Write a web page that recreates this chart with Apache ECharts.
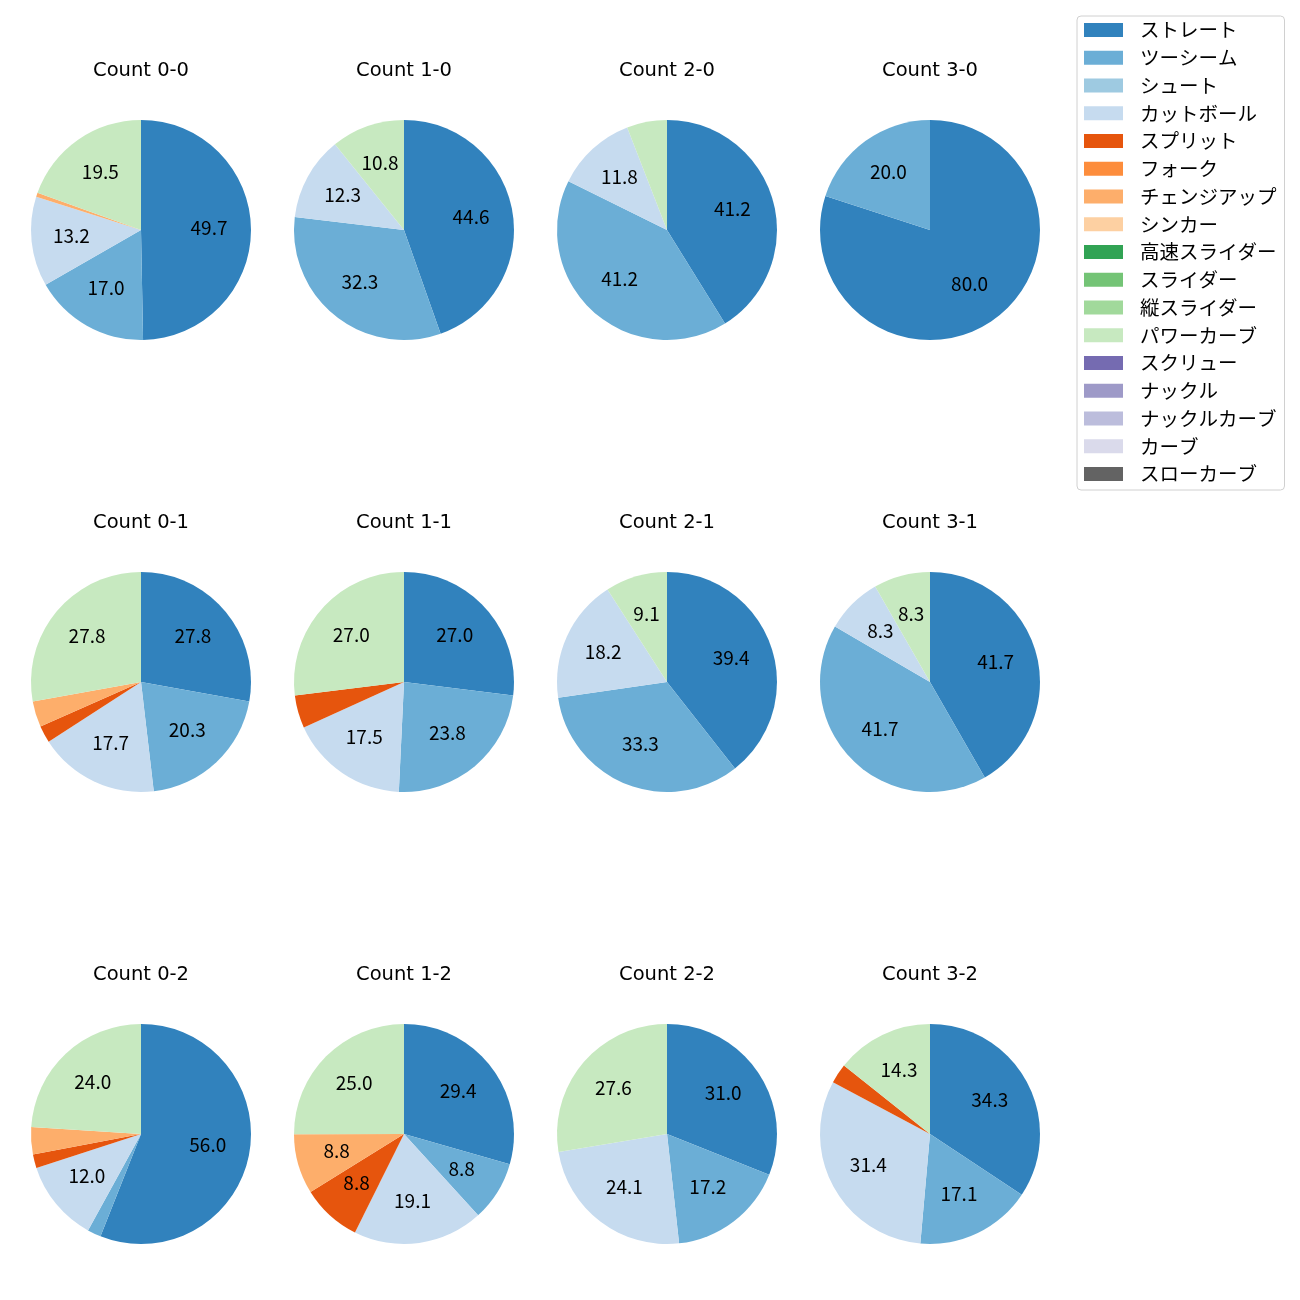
<!DOCTYPE html>
<html><head><meta charset="utf-8">
<script src="https://cdn.jsdelivr.net/npm/echarts@6/dist/echarts.min.js"></script>
<style>html,body{margin:0;padding:0;background:#fff}#c{width:1300px;height:1300px}</style>
</head><body><div id="c"></div>
<script>
const pitchTypes = ['ストレート','ツーシーム','シュート','カットボール','スプリット','フォーク','チェンジアップ','シンカー','高速スライダー','スライダー','縦スライダー','パワーカーブ','スクリュー','ナックル','ナックルカーブ','カーブ','スローカーブ'];
const palette = ['#3182bd','#6baed6','#9ecae1','#c6dbef','#e6550d','#fd8d3c','#fdae6b','#fdd0a2','#31a354','#74c476','#a1d99b','#c7e9c0','#756bb1','#9e9ac8','#bcbddc','#dadaeb','#636363'];
const countTitles = ['Count 0-0','Count 1-0','Count 2-0','Count 3-0','Count 0-1','Count 1-1','Count 2-1','Count 3-1','Count 0-2','Count 1-2','Count 2-2','Count 3-2'];
// values in percent, order follows pitchTypes
const c00 = [49.7,17.0,0,13.2,0,0,0.6,0,0,0,0,19.5,0,0,0,0,0];
const c10 = [44.6,32.3,0,12.3,0,0,0,0,0,0,0,10.8,0,0,0,0,0];
const c20 = [41.2,41.2,0,11.8,0,0,0,0,0,0,0,5.9,0,0,0,0,0];
const c30 = [80.0,20.0,0,0,0,0,0,0,0,0,0,0,0,0,0,0,0];
const c01 = [27.8,20.3,0,17.7,2.5,0,3.8,0,0,0,0,27.8,0,0,0,0,0];
const c11 = [27.0,23.8,0,17.5,4.8,0,0,0,0,0,0,27.0,0,0,0,0,0];
const c21 = [39.4,33.3,0,18.2,0,0,0,0,0,0,0,9.1,0,0,0,0,0];
const c31 = [41.7,41.7,0,8.3,0,0,0,0,0,0,0,8.3,0,0,0,0,0];
const c02 = [56.0,2.0,0,12.0,2.0,0,4.0,0,0,0,0,24.0,0,0,0,0,0];
const c12 = [29.4,8.8,0,19.1,8.8,0,8.8,0,0,0,0,25.0,0,0,0,0,0];
const c22 = [31.0,17.2,0,24.1,0,0,0,0,0,0,0,27.6,0,0,0,0,0];
const c32 = [34.3,17.1,0,31.4,2.9,0,0,0,0,0,0,14.3,0,0,0,0,0];
const allCounts = [c00,c10,c20,c30,c01,c11,c21,c31,c02,c12,c22,c32];

const FONT = '"Noto Sans CJK JP", "Noto Sans", sans-serif';
const TFONT = '"DejaVu Sans", sans-serif';
const colX = [141, 404, 667, 930];
const rowY = [230, 682, 1134];
const R = 110;

const chart = echarts.init(document.getElementById('c'), null, {renderer: 'canvas'});
const titles = [];
const series = [];
allCounts.forEach((vals, i) => {
  const cx = colX[i % 4], cy = rowY[Math.floor(i / 4)];
  titles.push({
    text: countTitles[i], left: cx, top: cy - R - 60, textAlign: 'center', padding: 0,
    textStyle: {fontFamily: TFONT, fontSize: 19.5, lineHeight: 22, fontWeight: 'normal', color: '#000'}
  });
  const data = pitchTypes.map((n, k) => ({name: n, value: vals[k]}));
  series.push({
    type: 'pie', center: [cx, cy], radius: R, startAngle: 90, clockwise: true,
    avoidLabelOverlap: false, label: {show: false}, labelLine: {show: false},
    itemStyle: {borderWidth: 0}, emphasis: {disabled: true}, silent: true,
    animation: false, data: data
  });
  series.push({
    type: 'pie', center: [cx, cy], radius: R * 1.2, startAngle: 90, clockwise: true,
    avoidLabelOverlap: false, labelLine: {show: false},
    itemStyle: {color: 'rgba(0,0,0,0)', borderWidth: 0}, emphasis: {disabled: true}, silent: true,
    animation: false,
    label: {show: true, position: 'inside', fontFamily: FONT, fontSize: 19, color: '#000', offset: [-1, -2],
      formatter: p => (p.value >= 7 ? p.value.toFixed(1) : '')},
    data: data
  });
});

chart.setOption({
  animation: false,
  color: palette,
  title: titles,
  legend: {
    orient: 'vertical', left: 1077, top: 16,
    data: pitchTypes,
    icon: 'rect', itemWidth: 39, itemHeight: 14, itemGap: 7.75,
    padding: [4, 8, 6, 7],
    borderColor: '#d0d0d0', borderWidth: 1, borderRadius: 4,
    textStyle: {fontFamily: FONT, fontSize: 19.5, color: '#000', lineHeight: 20, padding: [0, 0, 0, 12]},
    selectedMode: false
  },
  series: series
});
</script></body></html>
